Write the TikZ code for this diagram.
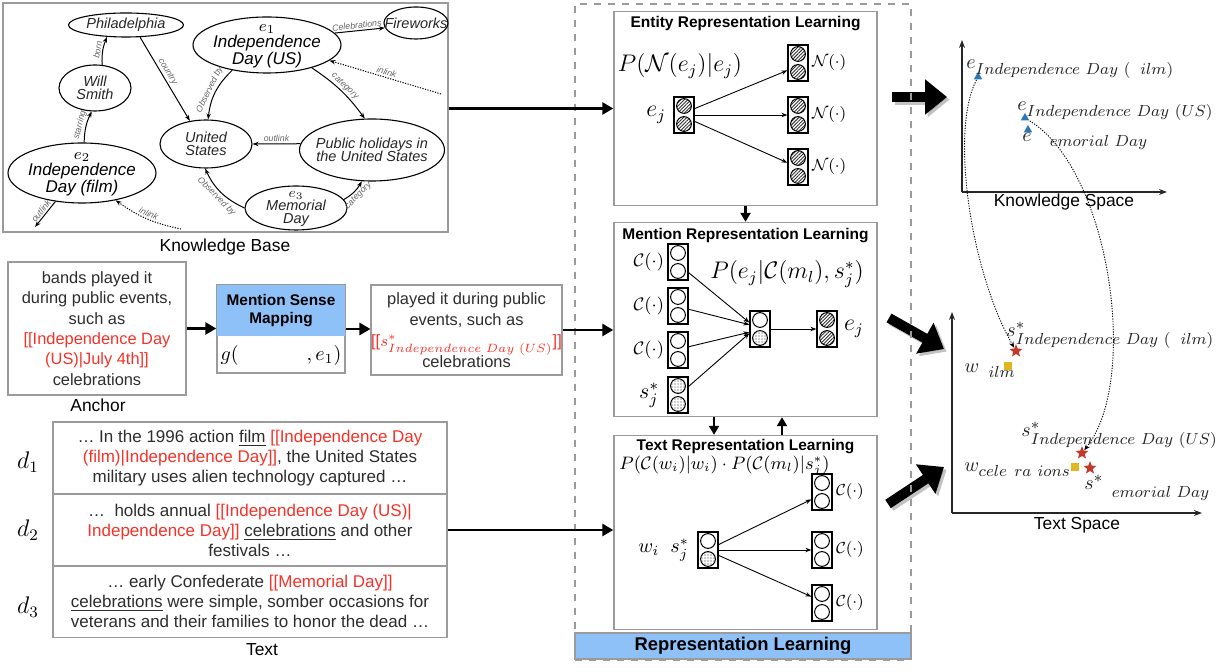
\documentclass[tikz,border=0pt]{standalone}
\usepackage[no-math]{fontspec}
\setmainfont{Liberation Sans}
\usetikzlibrary{arrows.meta,shapes.geometric,patterns.meta,calc}
\DeclareMathSizes{10.1}{10.1}{7.9}{6}
\definecolor{rlblue}{RGB}{142,193,248}
\definecolor{bxgray}{RGB}{155,155,155}
\definecolor{txred}{RGB}{245,50,40}
\definecolor{txgray}{RGB}{45,45,45}
\definecolor{tricol}{RGB}{45,120,180}
\definecolor{starcol}{RGB}{192,57,43}
\definecolor{sqcol}{RGB}{222,184,30}
\newcommand{\fs}[2]{\fontsize{#1}{#2}\selectfont\lineskiplimit=-20pt}
\newcommand{\vecnode}[4]{%
  \node[vecrect] (#1) at (#2) {};
  \draw[veccirc,#3] ($(#1.center)+(0,4.5pt)$) circle[radius=3.7pt];
  \draw[veccirc,#4] ($(#1.center)+(0,-4.5pt)$) circle[radius=3.7pt];}
\begin{document}
\begin{tikzpicture}[x=0.5pt,y=-0.5pt,
  kbbox/.style={draw=bxgray, line width=0.9pt, inner sep=0pt},
  kbell/.style={ellipse, draw, line width=0.55pt, inner sep=0pt},
  kbtx/.style={font=\fs{7.25}{6.7}\itshape, align=center, inner sep=0pt, text=black!85},
  kbtxl/.style={font=\fs{8.5}{8.2}\itshape, align=center, inner sep=0pt},
  kbarr/.style={-{Stealth[length=3pt,width=2.2pt]}, line width=0.5pt},
  kbdot/.style={kbarr, dash pattern=on 0.6pt off 0.7pt},
  elab/.style={font=\fs{4.4}{5}\itshape, text=black!60, inner sep=0.8pt, sloped},
  lab/.style={font=\fs{8.7}{10}, inner sep=0pt},
  tbox/.style={draw=bxgray, line width=0.7pt, align=center, text=txgray, inner sep=0pt},
  repbox/.style={draw=bxgray, line width=0.7pt, inner sep=0pt, minimum width=131.5pt, minimum height=97pt},
  reptitle/.style={font=\bfseries\fs{7.75}{9}, inner sep=0pt},
  vecrect/.style={draw, line width=0.6pt, minimum width=10pt, minimum height=18pt, inner sep=0pt, fill=white},
  veccirc/.style={line width=0.5pt, draw=black},
  hatch/.style={pattern={Lines[angle=45,distance=1.2pt,line width=0.45pt]}, pattern color=black!80},
  dotf/.style={pattern={Dots[distance=1.5pt,radius=0.28pt]}, pattern color=black!80},
  nofill/.style={fill=white},
  fml/.style={font=\fs{11.5}{13}, inner sep=0pt},
  clab/.style={font=\fs{8.5}{10}, inner sep=1.5pt},
  inarr/.style={line width=1.3pt, -{Triangle[length=5.5pt,width=6pt]}},
  midarr/.style={line width=1.1pt, -{Triangle[length=4.5pt,width=5pt]}},
  bigarr/.style={line width=5pt, -{Triangle[length=11pt,width=17pt]}},
  axis/.style={line width=0.8pt, black!85},
  dcurve/.style={line width=0.45pt, dash pattern=on 0.6pt off 0.7pt, -{Stealth[length=3pt,width=2.4pt]}},
  spl/.style={anchor=base west, inner sep=0pt, font=\fs{10.1}{12}, text=black!85},
  tri/.style={regular polygon, regular polygon sides=3, fill=tricol, inner sep=0pt, minimum size=5pt},
  stp/.style={star, star points=5, star point ratio=2.3, fill=starcol, inner sep=0pt, minimum size=6.8pt},
  sqp/.style={rectangle, fill=sqcol, inner sep=0pt, minimum size=4.4pt}
]
\useasboundingbox (0,0) rectangle (1226,672);

% ---------------- Knowledge base ----------------
\node[kbbox, minimum width=222.5pt, minimum height=114.5pt] (kb) at (225.5,117.5) {};
\node[lab] (kblab) at (225,247) {Knowledge Base};

\node[kbell, minimum width=57.5pt, minimum height=12pt] (phil) at (126,25) {};
\node[kbtx] (philt) at (phil) {Philadelphia};
\node[kbell, minimum width=74pt, minimum height=28pt] (e1) at (267,45) {};
\node[kbtxl] (e1t) at (267,46) {$e_1$\\Independence\\Day (US)};
\node[kbell, minimum width=32pt, minimum height=16pt] (fire) at (416,23) {};
\node[kbtx] (firet) at (fire) {Fireworks};
\node[kbell, minimum width=36pt, minimum height=23pt] (will) at (95,88) {};
\node[kbtx] (willt) at (will) {Will\\Smith};
\node[kbell, minimum width=74pt, minimum height=30pt] (e2) at (82,173) {};
\node[kbtxl] (e2t) at (82,174) {$e_2$\\Independence\\Day (film)};
\node[kbell, minimum width=46pt, minimum height=24pt] (us) at (206,144) {};
\node[kbtx] (ust) at (us) {United\\States};
\node[kbell, minimum width=72.5pt, minimum height=31pt] (pub) at (372,150) {};
\node[kbtx] (pubt) at (pub) {Public holidays in\\the United States};
\node[kbell, minimum width=51pt, minimum height=22pt] (mem) at (296,208) {};
\node[kbtx] (memt) at (296,209) {$e_3$\\Memorial\\Day};

\coordinate (kbin1) at (441,94);
\coordinate (kbin2) at (181,229);
\coordinate (kbout) at (35,227);

\draw[kbarr] (will.73) to[bend left=12] node[elab,above] {born} (phil.212);
\draw[kbarr] (e2.86) to[bend left=12] node[elab,above] {starring} (will.262);
\draw[kbarr] (phil.319) -- node[elab,above,pos=0.45] {country} (us.125);
\draw[kbarr] (e1.216) to[bend right=20] node[elab,above] {Observed by} (us.85);
\draw[kbarr] (e1.10) -- node[elab,above,pos=0.45] {Celebrations} (fire.189);
\draw[kbdot] (kbin1) -- node[elab,above] {inlink} (e1.346);
\draw[kbarr] (e1.333) to[bend left=10] node[elab,above] {category} (pub.103);
\draw[kbarr] (pub.175) -- node[elab,above] {outlink} (us.0);
\draw[kbarr] (mem.180) to[bend left=20] node[elab,below] {Observed by} (us.268);
\draw[kbarr] (mem.10) to[bend right=15] node[elab,below] {category} (pub.252);
\draw[kbarr] (e2.227) -- node[elab,above] {outlink} (kbout);
\draw[kbdot] (kbin2) to[bend left=12] node[elab,above] {inlink} (e2.321);

% ---------------- Anchor / mention sense mapping ----------------
\node[tbox, font=\fs{8.2}{10.2}, minimum width=89pt, minimum height=66.5pt] (anc) at (97,328.5)
  {bands played it\\during public events,\\such as\\\textcolor{txred}{[[Independence Day}\\\textcolor{txred}{(US)|July 4th]]}\\celebrations};
\node[lab] (anclab) at (98,405) {Anchor};

\node[draw=bxgray, line width=0.7pt, minimum width=64pt, minimum height=44pt, inner sep=0pt] (msm) at (281,329) {};
\fill[rlblue] (msm.north west) rectangle ($(msm.north east)+(0,-26pt)$);
\draw[bxgray, line width=0.7pt] (msm.north west) rectangle (msm.south east);
\node[font=\bfseries\fs{7.7}{9}, align=center, inner sep=0pt] (msmt) at ($(msm.north)+(0,-13pt)$) {Mention Sense\\Mapping};
\node[font=\fs{10}{12}, inner sep=0pt] (msmg) at ($(msm.south)+(0,9pt)$) {$g(\hspace{34pt}, e_1)$};

\node[tbox, font=\fs{8.2}{10.4}, minimum width=93.5pt, minimum height=45pt] (mout) at (466.5,330)
  {played it during public\\events, such as\\\textcolor{txred}{[[$s^*_{Independence\ Day\ (US)}$]]}\\celebrations};

\draw[inarr] (anc.east) -- (anc.east -| msm.west);
\draw[inarr] (msm.east) -- (msm.east -| mout.west);

% ---------------- Text ----------------
\node[tbox, font=\fs{8.5}{10}, minimum width=197pt, minimum height=36pt] (d1) at (250,458)
  {… In the 1996 action \underline{film} \textcolor{txred}{[[Independence Day}\\\textcolor{txred}{(film)|Independence Day]]}, the United States\\military uses alien technology captured …};
\node[tbox, font=\fs{8.5}{10}, minimum width=197pt, minimum height=36pt] (d2) at (250,530)
  {…\ \ holds annual \textcolor{txred}{[[Independence Day (US)|}\\\textcolor{txred}{Independence Day]]} \underline{celebrations} and other\\festivals …};
\node[tbox, font=\fs{8.5}{10}, minimum width=197pt, minimum height=36pt] (d3) at (250,601.5)
  {… early Confederate \textcolor{txred}{[[Memorial Day]]}\\\underline{celebrations} were simple, somber occasions for\\veterans and their families to honor the dead …};
\node[font=\fs{12}{14}, inner sep=0pt] (d1l) at (28,462) {$d_1$};
\node[font=\fs{12}{14}, inner sep=0pt] (d2l) at (28,530) {$d_2$};
\node[font=\fs{12}{14}, inner sep=0pt] (d3l) at (28,607) {$d_3$};
\node[lab] (txtlab) at (262,650) {Text};

% ---------------- big arrows ----------------
\coordinate (b1s) at (892,97);  \coordinate (b1e) at (947,97);
\coordinate (b2s) at (889,318); \coordinate (b2e) at (944,349);
\coordinate (b3s) at (888,504); \coordinate (b3e) at (944,467);
\foreach \s/\e in {b1s/b1e,b2s/b2e,b3s/b3e}{
  \draw[bigarr, black!40, opacity=0.6, transform canvas={shift={(1.3pt,-1.3pt)}}] (\s) -- (\e);
  \draw[bigarr] (\s) -- (\e);}

% ---------------- Representation learning ----------------
\node[draw=bxgray, line width=0.6pt, dash pattern=on 3.5pt off 3.5pt, minimum width=168pt, minimum height=328pt, inner sep=0pt] (rl) at (743,332) {};
\node[draw=bxgray, line width=0.6pt, fill=rlblue, minimum width=168pt, minimum height=13pt, inner sep=0pt, font=\bfseries\fs{9.2}{11}] (rlb) at (743,646) {Representation Learning};

\node[repbox] (ent) at (745.5,108.5) {};
\node[reptitle] (entt) at (745.5,24) {Entity Representation Learning};
\node[repbox] (ment) at (745.5,319.5) {};
\node[reptitle] (mentt) at (745.5,236) {Mention Representation Learning};
\node[repbox] (txr) at (745.5,532.5) {};
\node[reptitle] (txrt) at (745.5,447) {Text Representation Learning};

\draw[inarr] (kb.east |- ent.west) -- (ent.west);
\draw[inarr] (mout.east) -- (mout.east -| ment.west);
\draw[inarr] (d2.east) -- (d2.east -| txr.west);
\draw[midarr] (ent.south) -- (ment.north);
\draw[midarr] ([xshift=-15.75pt]ment.south) -- ([xshift=-15.75pt]txr.north);
\draw[midarr] ([xshift=18.25pt]txr.north) -- ([xshift=18.25pt]ment.south);

% entity
\node[fml] (entf) at (680,66) {$P(\mathcal{N}(e_j)|e_j)$};
\vecnode{ej}{684,115}{hatch}{hatch}
\node[font=\fs{12}{14}, inner sep=3.5pt, anchor=east] (ejl) at (ej.west) {$e_j$};
\vecnode{n1}{798,63}{hatch}{hatch}
\vecnode{n2}{798,115}{hatch}{hatch}
\vecnode{n3}{798,167}{hatch}{hatch}
\node[clab, font=\fs{7.8}{9}, anchor=west] (n1l) at (n1.east) {$\mathcal{N}(\cdot)$};
\node[clab, font=\fs{7.8}{9}, anchor=west] (n2l) at (n2.east) {$\mathcal{N}(\cdot)$};
\node[clab, font=\fs{7.8}{9}, anchor=west] (n3l) at (n3.east) {$\mathcal{N}(\cdot)$};
\draw[-{Stealth[length=3pt,width=2.2pt]}, line width=0.45pt] (ej.31) -- (n1.215);
\draw[-{Stealth[length=3pt,width=2.2pt]}, line width=0.45pt] (ej.east) -- (n2.west);
\draw[-{Stealth[length=3pt,width=2.2pt]}, line width=0.45pt] (ej.-31) -- (n3.158);

% mention
\node[fml] (mentf) at (787,274) {$P(e_j|\mathcal{C}(m_l),s_j^*)$};
\vecnode{c1}{678,262}{nofill}{nofill}
\vecnode{c2}{678,306}{nofill}{nofill}
\vecnode{c3}{678,350}{nofill}{nofill}
\vecnode{sj}{678,395}{dotf}{dotf}
\node[clab, font=\fs{9.5}{11}, anchor=east] (c1l) at (c1.west) {$\mathcal{C}(\cdot)$};
\node[clab, font=\fs{9.5}{11}, anchor=east] (c2l) at (c2.west) {$\mathcal{C}(\cdot)$};
\node[clab, font=\fs{9.5}{11}, anchor=east] (c3l) at (c3.west) {$\mathcal{C}(\cdot)$};
\node[font=\fs{11}{13}, inner sep=4pt, anchor=east] (sjl) at (sj.west) {$s_j^*$};
\vecnode{mid}{760,329}{nofill}{dotf}
\vecnode{ejm}{827,329}{hatch}{hatch}
\node[font=\fs{12}{14}, inner sep=3pt, anchor=west] (ejml) at (ejm.east) {$e_j$};
\draw[-{Stealth[length=3pt,width=2.2pt]}, line width=0.45pt] (c1.-45) -- (mid.149);
\draw[-{Stealth[length=3pt,width=2.2pt]}, line width=0.45pt] (c2.-17) -- (mid.158);
\draw[-{Stealth[length=3pt,width=2.2pt]}, line width=0.45pt] (c3.17) -- (mid.197);
\draw[-{Stealth[length=3pt,width=2.2pt]}, line width=0.45pt] (sj.39) -- (mid.202);
\draw[-{Stealth[length=3pt,width=2.2pt]}, line width=0.45pt] (mid.east) -- (ejm.west);

% text rep
\node[font=\fs{9}{11}, inner sep=0pt, anchor=west] (txrf) at (619,466) {$P(\mathcal{C}(w_i)|w_i)\cdot P(\mathcal{C}(m_l)|s_j^*)$};
\vecnode{wv}{708,550}{nofill}{dotf}
\node[font=\fs{10}{12}, inner sep=4pt, anchor=east] (wvl) at (wv.west) {$w_i\ \ s_j^*$};
\vecnode{t1}{822,492}{nofill}{nofill}
\vecnode{t2}{822,550}{nofill}{nofill}
\vecnode{t3}{822,603}{nofill}{nofill}
\node[clab, anchor=west] (t1l) at (t1.east) {$\mathcal{C}(\cdot)$};
\node[clab, anchor=west] (t2l) at (t2.east) {$\mathcal{C}(\cdot)$};
\node[clab, anchor=west] (t3l) at (t3.east) {$\mathcal{C}(\cdot)$};
\draw[-{Stealth[length=3pt,width=2.2pt]}, line width=0.45pt] (wv.27) -- (t1.215);
\draw[-{Stealth[length=3pt,width=2.2pt]}, line width=0.45pt] (wv.east) -- (t2.west);
\draw[-{Stealth[length=3pt,width=2.2pt]}, line width=0.45pt] (wv.-27) -- (t3.149);

% ---------------- Knowledge space ----------------
\coordinate (ksY) at (962,40);
\coordinate (ksO) at (962,192);
\coordinate (ksX) at (1167,192);
\draw[axis, -{Stealth[length=4pt,width=3pt]}] (ksO) -- (ksX);
\draw[axis, -{Stealth[length=4pt,width=3pt]}] (ksO) -- (ksY);
\node[lab] (kslab) at (1064,202) {Knowledge Space};
\node[tri] (tr1) at (978,77) {};
\node[tri] (tr2) at (1025,118) {};
\node[tri] (tr3) at (1028,130) {};
\node[spl] (l1) at (966,69) {$e_{Independence\ Day\ (\phantom{f}ilm)}$};
\node[spl] (l2) at (1017,111) {$e_{Independence\ Day\ (US)}$};
\node[spl] (l3) at (1022,142) {$e_{\phantom{M}emorial\ Day}$};

% ---------------- Text space ----------------
\coordinate (tsY) at (952,312);
\coordinate (tsO) at (952,513);
\coordinate (tsX) at (1202,513);
\draw[axis, -{Stealth[length=4pt,width=3pt]}] (tsO) -- (tsX);
\draw[axis, -{Stealth[length=4pt,width=3pt]}] (tsO) -- (tsY);
\node[lab] (tslab) at (1077,525) {Text Space};
\node[stp] (st1) at (1016,351) {};
\node[stp] (st2) at (1082,453) {};
\node[stp] (st3) at (1090,468) {};
\node[sqp] (sq1) at (1008,366) {};
\node[sqp] (sq2) at (1075,467) {};
\node[spl] (l4) at (1006,337) {$s^*_{Independence\ Day\ (\phantom{f}ilm)}$};
\node[spl] (l5) at (964,373) {$w_{\phantom{f}ilm}$};
\node[spl] (l6) at (1021,437) {$s^*_{Independence\ Day\ (US)}$};
\node[spl] (l7) at (964,472) {$w_{cele\phantom{b}ra\phantom{t}ions}$};
\node[spl] (l8) at (1084,490) {$s^*_{\phantom{M}emorial\ Day}$};

\draw[dcurve] (tr1) .. controls (950,130) and (970,270) .. (st1);
\draw[dcurve] (tr2) .. controls (1110,170) and (1140,380) .. (st2);
\end{tikzpicture}
\end{document}
